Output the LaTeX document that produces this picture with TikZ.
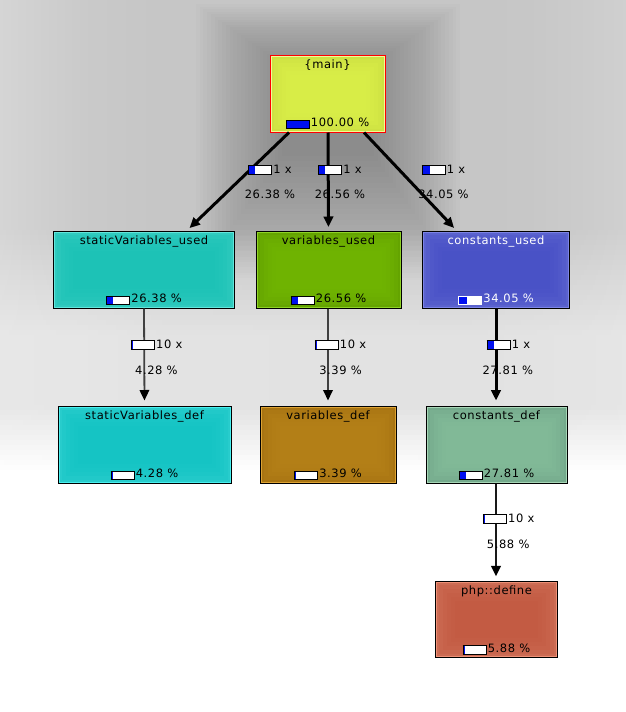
\documentclass[tikz,border=0pt]{standalone}
\usepackage{fontspec}
\setmainfont{DejaVu Sans}[LetterSpace=5]
\usetikzlibrary{arrows.meta,calc}

% function boxes: fill (edge), glow (centre), highlight line
\definecolor{barblue}{HTML}{0010F0}
\definecolor{fMain}{HTML}{CEE142} \definecolor{gMain}{HTML}{DCF24A} \definecolor{hMain}{HTML}{F2FC96}
\definecolor{fSvu}{HTML}{30CABE}  \definecolor{gSvu}{HTML}{1AC2B6}  \definecolor{hSvu}{HTML}{62E6DC}
\definecolor{fVu}{HTML}{64A400}   \definecolor{gVu}{HTML}{74B804}   \definecolor{hVu}{HTML}{8ED226}
\definecolor{fCu}{HTML}{5A62CE}   \definecolor{gCu}{HTML}{4650C6}   \definecolor{hCu}{HTML}{7C84E6}
\definecolor{fSvd}{HTML}{28CCCC}  \definecolor{gSvd}{HTML}{12C4C4}  \definecolor{hSvd}{HTML}{48F0F0}
\definecolor{fVd}{HTML}{A87412}   \definecolor{gVd}{HTML}{B8841A}   \definecolor{hVd}{HTML}{DDA232}
\definecolor{fCd}{HTML}{74AA8C}   \definecolor{gCd}{HTML}{86BE9C}   \definecolor{hCd}{HTML}{A6D6B6}
\definecolor{fPhp}{HTML}{CC6C54}  \definecolor{gPhp}{HTML}{C25840}  \definecolor{hPhp}{HTML}{EE9076}
\definecolor{thinedge}{HTML}{404040}

% cost bar: #1 = filled width in pt (of 22pt)
\newcommand\costbar[1]{{\setlength\fboxsep{0pt}\setlength\fboxrule{1pt}%
  \fbox{\textcolor{barblue}{\rule{#1pt}{7.7pt}}\textcolor{white}{\rule{\dimexpr22pt-#1pt\relax}{7.7pt}}}}}
\newcommand\nodebar[1]{\raisebox{-1.5pt}{\costbar{#1}}\hspace{1.2pt}}
\newcommand\edgebar[1]{\raisebox{-0.6pt}{\costbar{#1}}\hspace{1.2pt}}

% background strips: each strip is a left-to-right shading that blends
% a grey upper profile into a lighter lower profile, then to white.
% stops: position (bp) / upper darkness / lower darkness
\newcommand\bgstops{0/4/4,10/8/7,21/14/9,32/21/10,38/22.5/11,62/22.5/11.5,%
  67/22/11,72/20/10.5,80/16/9,88/12/8}
\newcommand\declbg[2]{\pgfdeclarehorizontalshading{#1}{100bp}{#2}}
\newcommand\bgstrip[1]{% #1 = strip index, strips are 5pt high
  \pgfmathsetmacro\ym{5*#1+2.5}%
  \pgfmathsetmacro\wcol{min(1,max(0,(335-\ym)/105))}%
  \pgfmathsetmacro\sbase{min(1,max(0,(472-\ym)/65))}%
  \gdef\bgspec{}%
  \foreach \p/\c/\b in \bgstops {%
    \pgfmathsetmacro\dk{\sbase*(\wcol*\c+(1-\wcol)*\b)}%
    \xdef\bgspec{\bgspec color(\p bp)=(black!\dk); }}%
  \pgfmathsetmacro\dk{\sbase*6}%
  \xdef\bgspec{\bgspec color(100bp)=(black!\dk)}%
  \edef\tmp{\noexpand\declbg{bgstrip#1}{\bgspec}}\tmp
  \shade[shading=bgstrip#1] (0,5*#1) rectangle (626,5*#1+5.3);}

\tikzset{
  fnbox/.style={draw=black, line width=1pt, fill=#1, inner sep=0pt, minimum height=77pt},
  txt/.style={anchor=base, inner sep=0pt, font=\fontsize{11.5pt}{13pt}\selectfont},
  tip/.style={-{Triangle[length=10.5pt,width=9.5pt,color=black]}},
  callthick/.style={tip, line width=3pt, black, shorten >=3.5pt},
  callthin/.style={tip, line width=1.8pt, thinedge, shorten >=5pt},
  callmid/.style={tip, line width=2.3pt, black!90, shorten >=5pt},
}

% soft centre glow and highlight line just inside a box border
\newcommand\boxdeco[3]{%
  \foreach \i in {4,8,12,16,20}
    \fill[#2, opacity=0.28] ([shift={(\i,\i)}]#1.north west) rectangle ([shift={(-\i,-\i)}]#1.south east);
  \draw[#3, line width=1pt]
    ([shift={(1.5,1.5)}]#1.north west) rectangle ([shift={(-1.5,-1.5)}]#1.south east);}

\begin{document}
\begin{tikzpicture}[x=1pt, y=-1pt]
\useasboundingbox (0,0) rectangle (626,712);

% background
\begin{scope}
  \clip (0,0) rectangle (626,712);
  \fill[white] (0,0) rectangle (626,712);
  \foreach \k in {0,...,98} {\bgstrip{\k}}
  % finely stepped rectangular shadow around the root function
  \foreach \k in {0,...,23} {
    \pgfmathsetmacro\hw{132-86*\k/23}
    \pgfmathsetmacro\hu{96-60*\k/23}
    \pgfmathsetmacro\hd{178-122*\k/23}
    \fill[black, opacity=0.011] (328-\hw,100-\hu) rectangle (328+\hw,100+\hd);
  }
\end{scope}

% boxes
\node[fnbox=fMain, draw=red, minimum width=115pt] (main) at (327.5,93.5) {};
\node[fnbox=fSvu, minimum width=181pt] (svu) at (144,269.5) {};
\node[fnbox=fVu,  minimum width=145pt] (vu)  at (328.5,269.5) {};
\node[fnbox=fCu,  minimum width=147pt] (cu)  at (496,269.5) {};
\node[fnbox=fSvd, minimum width=173pt] (svd) at (144.5,444.5) {};
\node[fnbox=fVd,  minimum width=136pt] (vd)  at (328,444.5) {};
\node[fnbox=fCd,  minimum width=141pt] (cd)  at (496.5,444.5) {};
\node[fnbox=fPhp, minimum width=122pt, minimum height=76pt] (php) at (496.5,619.8) {};

\boxdeco{main}{gMain}{hMain}
\boxdeco{svu}{gSvu}{hSvu}
\boxdeco{vu}{gVu}{hVu}
\boxdeco{cu}{gCu}{hCu}
\boxdeco{svd}{gSvd}{hSvd}
\boxdeco{vd}{gVd}{hVd}
\boxdeco{cd}{gCd}{hCd}
\boxdeco{php}{gPhp}{hPhp}

% box texts
\node[txt] (tmain) at ($(main.north)+(0,13.5)$) {\{main\}};
\node[txt] (pmain) at ($(main.south)+(0,-5.8)$) {\nodebar{22}100.00 \%};
\node[txt] (tsvu) at ($(svu.north)+(0,13.5)$) {staticVariables\_used};
\node[txt] (psvu) at ($(svu.south)+(0,-5.8)$) {\nodebar{5.80}26.38 \%};
\node[txt] (tvu) at ($(vu.north)+(0,13.5)$) {variables\_used};
\node[txt] (pvu) at ($(vu.south)+(0,-5.8)$) {\nodebar{5.84}26.56 \%};
\node[txt, text=white] (tcu) at ($(cu.north)+(0,13.5)$) {constants\_used};
\node[txt, text=white] (pcu) at ($(cu.south)+(0,-5.8)$) {\nodebar{7.49}34.05 \%};
\node[txt] (tsvd) at ($(svd.north)+(0,13.5)$) {staticVariables\_def};
\node[txt] (psvd) at ($(svd.south)+(0,-5.8)$) {\nodebar{0.94}4.28 \%};
\node[txt] (tvd) at ($(vd.north)+(0,13.5)$) {variables\_def};
\node[txt] (pvd) at ($(vd.south)+(0,-5.8)$) {\nodebar{0.75}3.39 \%};
\node[txt] (tcd) at ($(cd.north)+(0,13.5)$) {constants\_def};
\node[txt] (pcd) at ($(cd.south)+(0,-5.8)$) {\nodebar{6.12}27.81 \%};
\node[txt] (tphp) at ($(php.north)+(0,13.5)$) {php::define};
\node[txt] (pphp) at ($(php.south)+(0,-5.8)$) {\nodebar{1.29}5.88 \%};

% calls
\draw[callthick] ($(main.south)+(-38.5,0)$) -- ($(svu.north)+(43,0)$);
\draw[callthick] ($(main.south)+(0.5,0)$) -- ($(vu.north)+(0,0)$);
\draw[callthick] ($(main.south)+(36.5,0)$) -- ($(cu.north)+(-39.5,0)$);
\draw[callthin] (svu.south) -- (svd.north);
\draw[callthin] ($(vu.south)+(-0.5,0)$) -- (vd.north);
\draw[callthick, shorten >=5pt] (cu.south) -- ($(cd.north)+(-0.5,0)$);
\draw[callmid] ($(cd.south)+(-0.5,0)$) -- ($(php.north)+(-0.5,0)$);

% call labels
\node[txt] (c1n) at (270,173.3) {\edgebar{5.80}1 x};
\node[txt] (c1p) at (270,198.7) {26.38 \%};
\node[txt] (c2n) at (340,173.3) {\edgebar{5.84}1 x};
\node[txt] (c2p) at (340,198.7) {26.56 \%};
\node[txt] (c3n) at (443.5,173.3) {\edgebar{7.49}1 x};
\node[txt] (c3p) at (443.5,198.7) {34.05 \%};
\node[txt] (c4n) at (156.7,348) {\edgebar{0.94}10 x};
\node[txt] (c4p) at (156.4,374) {4.28 \%};
\node[txt] (c5n) at (340.5,348) {\edgebar{0.75}10 x};
\node[txt] (c5p) at (340.5,374) {3.39 \%};
\node[txt] (c6n) at (508.5,348) {\edgebar{6.12}1 x};
\node[txt] (c6p) at (507.8,374) {27.81 \%};
\node[txt] (c7n) at (508.7,522.3) {\edgebar{1.29}10 x};
\node[txt] (c7p) at (508.2,548.3) {5.88 \%};
\end{tikzpicture}
\end{document}
